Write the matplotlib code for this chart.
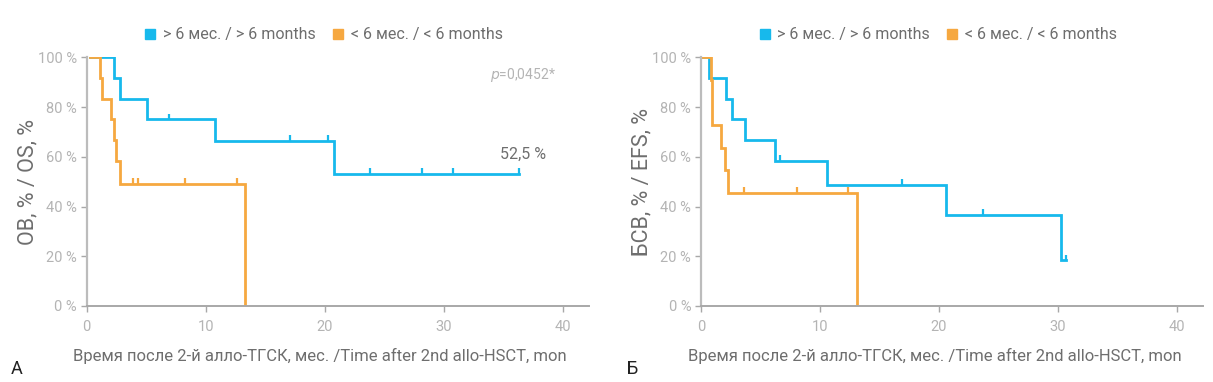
import numpy as np
import matplotlib.pyplot as plt
from matplotlib.lines import Line2D

plt.rcParams['font.family'] = ['Roboto', 'DejaVu Sans']

# colours
blue = '#17b9ec'
orange = '#f6a840'
grey_txt = '#6e6e6e'
grey_tick = '#b4b4b4'

# ---- OS panel (A) ----
os_blue_t = [0.25, 2.3, 2.8, 5.1, 10.8, 20.8, 36.3]
os_blue_s = [100, 91.7, 83.3, 75.0, 66.3, 53.0, 53.0]
os_blue_cens = [6.9, 17.1, 20.3, 23.8, 28.2, 30.8, 36.3]

os_or_t = [0.25, 1.1, 1.3, 2.0, 2.3, 2.5, 2.8, 13.3]
os_or_s = [100, 91.7, 83.3, 75.0, 66.7, 58.3, 49.0, 0]
os_or_cens = [3.9, 4.3, 8.3, 12.6]

# ---- EFS panel (Б) ----
efs_blue_t = [0, 0.7, 2.1, 2.6, 3.7, 6.2, 10.6, 20.6, 30.3, 30.7]
efs_blue_s = [100, 91.7, 83.3, 75.0, 66.7, 58.3, 48.6, 36.5, 18.3, 18.3]
efs_blue_cens = [6.65, 16.9, 23.7, 30.7]

efs_or_t = [0, 0.85, 0.95, 1.7, 2.05, 2.3, 13.1]
efs_or_s = [100, 90.9, 72.7, 63.6, 54.5, 45.5, 0]
efs_or_cens = [3.6, 8.05, 12.4]

legend_labels = ['> 6 мес. / > 6 months', '< 6 мес. / < 6 months']
xticks = [0, 10, 20, 30, 40]
yticks = [0, 20, 40, 60, 80, 100]
xlabel = 'Время после 2-й алло-ТГСК, мес. /Time after 2nd allo-HSCT, mon'


def km(ax, t, s, cens, color):
    ax.step(t, s, where='post', color=color, lw=2, solid_joinstyle='miter')
    t = np.asarray(t)
    s = np.asarray(s)
    idx = np.searchsorted(t, cens, side='right') - 1
    idx = np.clip(idx, 0, len(s) - 1)
    yc = s[idx]
    ax.vlines(cens, yc, yc + 2.4, color=color, lw=1.6)


def style(ax, ylab, letter, lx):
    ax.set_xlim(0, 42.2)
    ax.set_ylim(0, 100)
    ax.set_xticks(xticks)
    ax.set_yticks(yticks)
    ax.set_yticklabels([f'{v} %' for v in yticks])
    for side in ['top', 'right']:
        ax.spines[side].set_visible(False)
    ax.spines['left'].set_color('#bcbcbc')
    ax.spines['left'].set_linewidth(1.6)
    ax.spines['bottom'].set_color('#a8a8a8')
    ax.spines['bottom'].set_linewidth(1.4)
    ax.tick_params(axis='both', colors='#a8a8a8', labelcolor=grey_tick,
                   labelsize=10.5, length=4, width=1)
    ax.tick_params(axis='x', pad=6)
    ax.tick_params(axis='y', pad=3)
    ax.set_ylabel(ylab, fontsize=15.5, color=grey_txt)
    ax.yaxis.set_label_coords(-0.097, 0.5)
    ax.set_xlabel(xlabel, fontsize=12, color=grey_txt)
    ax.xaxis.set_label_coords(0.465, -0.17)
    handles = [Line2D([], [], ls='', marker='s', ms=7.5, color=c) for c in (blue, orange)]
    ax.legend(handles, legend_labels, loc='center', bbox_to_anchor=(0.47, 1.09),
              ncol=2, frameon=False, fontsize=11.5, labelcolor=grey_txt,
              handletextpad=0.3, columnspacing=0.9, handlelength=1.0)
    ax.figure.text(lx, 0.02, letter, fontsize=13, color='#222222')


fig = plt.figure(figsize=(12.13, 3.82), dpi=100)
ax1 = fig.add_axes([0.0715, 0.199, 0.414, 0.651])
ax2 = fig.add_axes([0.5778, 0.199, 0.414, 0.651])

km(ax1, os_blue_t, os_blue_s, os_blue_cens, blue)
km(ax1, os_or_t, os_or_s, os_or_cens, orange)
style(ax1, 'ОВ, % / OS, %', 'А', 0.009)
ax1.text(0.935, 0.93, '$p$=0,0452*', transform=ax1.transAxes, ha='right', va='center',
         fontsize=10, color=grey_tick)
ax1.text(38.6, 61, '52,5 %', ha='right', va='center', fontsize=11.5, color=grey_txt)

km(ax2, efs_blue_t, efs_blue_s, efs_blue_cens, blue)
km(ax2, efs_or_t, efs_or_s, efs_or_cens, orange)
style(ax2, 'БСВ, % / EFS, %', 'Б', 0.517)

fig.savefig('out.png', dpi=100)
